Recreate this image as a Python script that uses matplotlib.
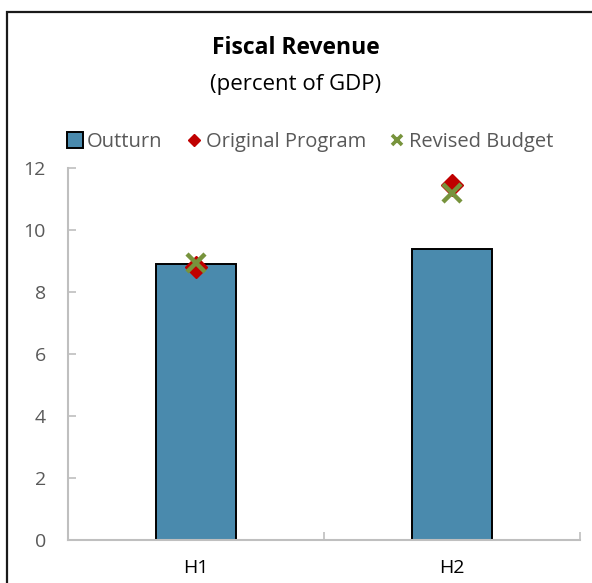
import matplotlib
matplotlib.use("Agg")
import matplotlib.pyplot as plt
from matplotlib.lines import Line2D
from matplotlib.patches import Rectangle

plt.rcParams['font.family'] = ['Open Sans', 'DejaVu Sans']

categories = ["H1", "H2"]
outturn = [8.9, 9.4]
original_program = [8.8, 11.45]
revised_budget = [8.95, 11.2]
yticks = [0, 2, 4, 6, 8, 10, 12]

bar_color = "#4a8aad"
red = "#c00000"
green = "#77933c"
grey_text = "#595959"
axis_grey = "#bfbfbf"

fig = plt.figure(figsize=(5.92, 5.83), dpi=100)

# outer chart frame
fig.patches.append(Rectangle((6.5 / 592, -0.05), 1.2, 1.05 - 11.5 / 583,
                             transform=fig.transFigure, fill=False,
                             edgecolor="#1a1a1a", linewidth=1.6))

ax = fig.add_axes([68 / 592, 43 / 583, 512 / 592, 372 / 583])
x = list(range(len(categories)))
ax.bar(x, outturn, width=0.31, color=bar_color, edgecolor="black",
       linewidth=1.4, zorder=2)
ax.plot(x, original_program, linestyle="none", marker="D", markersize=11,
        color=red, zorder=3)
ax.plot(x, revised_budget, linestyle="none", marker="x", markersize=13,
        markeredgewidth=3.2, color=green, zorder=4)

ax.set_xlim(-0.5, 1.5)
ax.set_ylim(0, 12)
ax.set_yticks(yticks)
ax.set_yticklabels([str(v) for v in yticks])
ax.set_xticks(x)
ax.set_xticklabels(categories)
ax.tick_params(axis="y", direction="in", length=6, width=1.2, color=axis_grey,
               labelsize=14, labelcolor=grey_text, pad=16)
ax.tick_params(axis="x", length=0, labelsize=14, labelcolor="black", pad=14)
# category boundary ticks along the x axis
ax.set_xticks([-0.5, 0.5, 1.5], minor=True)
ax.tick_params(axis="x", which="minor", direction="in", length=6, width=1.2,
               color=axis_grey)
for side in ("top", "right"):
    ax.spines[side].set_visible(False)
for side in ("left", "bottom"):
    ax.spines[side].set_color(axis_grey)
    ax.spines[side].set_linewidth(1.5)

fig.text(0.5, 1 - 48 / 583, "Fiscal Revenue", ha="center", va="center",
         fontsize=16.5, fontweight="bold")
fig.text(0.5, 1 - 84 / 583, "(percent of GDP)", ha="center", va="center",
         fontsize=16)

handles = [
    Line2D([], [], linestyle="none", marker="s", markersize=12,
           markerfacecolor=bar_color, markeredgecolor="black", markeredgewidth=1.4),
    Line2D([], [], linestyle="none", marker="D", markersize=6, color=red),
    Line2D([], [], linestyle="none", marker="x", markersize=7,
           markeredgewidth=2.6, color=green),
]
leg = fig.legend(handles, ["Outturn", "Original Program", "Revised Budget"],
                 loc="center", bbox_to_anchor=(0.525, 1 - 142 / 583), ncol=3,
                 frameon=False, fontsize=14.5, handlelength=0.7,
                 handletextpad=0.25, columnspacing=1.2, labelcolor=grey_text)

fig.savefig("out.png", dpi=100)
